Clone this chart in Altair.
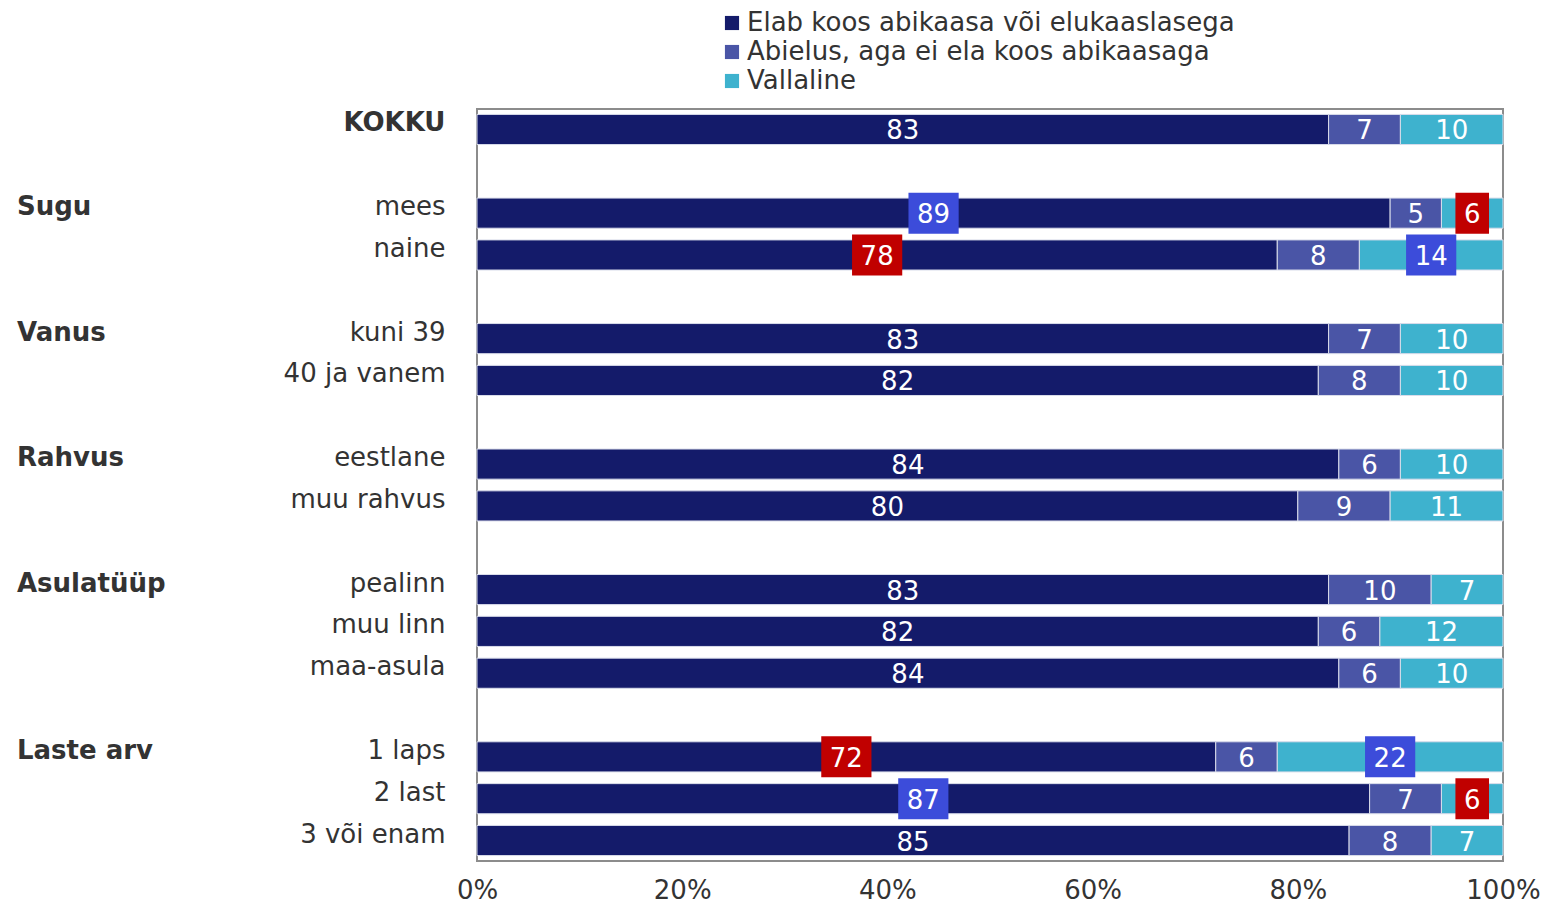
import altair as alt
import pandas as pd

FONT = "DejaVu Sans"

rows = ["KOKKU", " ", "mees", "naine", "  ", "kuni 39", "40 ja vanem", "   ",
        "eestlane", "muu rahvus", "    ", "pealinn", "muu linn", "maa-asula", "     ",
        "1 laps", "2 last", "3 või enam"]

categories = ["KOKKU", "mees", "naine", "kuni 39", "40 ja vanem", "eestlane", "muu rahvus",
              "pealinn", "muu linn", "maa-asula", "1 laps", "2 last", "3 või enam"]
series = ["Elab koos abikaasa või elukaaslasega", "Abielus, aga ei ela koos abikaasaga", "Vallaline"]
elab = [83, 89, 78, 83, 82, 84, 80, 83, 82, 84, 72, 87, 85]
abielus = [7, 5, 8, 7, 8, 6, 9, 10, 6, 6, 6, 7, 8]
vallaline = [10, 6, 14, 10, 10, 10, 11, 7, 12, 10, 22, 6, 7]
colors = ["#141B6A", "#4A55A6", "#3EB2CE"]

# significance highlights: (category, series index, direction)
highlights = [("mees", 0, "up"), ("mees", 2, "down"),
              ("naine", 0, "down"), ("naine", 2, "up"),
              ("1 laps", 0, "down"), ("1 laps", 2, "up"),
              ("2 last", 0, "up"), ("2 last", 2, "down")]

group_rows = ["mees", "kuni 39", "eestlane", "pealinn", "1 laps"]
group_labels = ["Sugu", "Vanus", "Rahvus", "Asulatüüp", "Laste arv"]

hl_map = {(c, s): d for c, s, d in highlights}
recs = []
for i, cat in enumerate(categories):
    for s, vals in enumerate([elab, abielus, vallaline]):
        recs.append({"row": cat, "series": series[s], "value": vals[i], "ord": s,
                     "hl": hl_map.get((cat, s), "")})
df = pd.DataFrame(recs)
gdf = pd.DataFrame({"row": group_rows, "label": group_labels})

W = 1026
yscale = alt.Scale(domain=rows, paddingInner=0.28, paddingOuter=0.13)
xscale = alt.Scale(domain=[0, 100], nice=False, zero=True)

y_enc = alt.Y("row:N", scale=yscale, sort=rows, title=None,
              axis=alt.Axis(ticks=False, domain=False, labelPadding=32, labelOffset=-6,
                            labelFontWeight=alt.ExprRef(expr="datum.value == 'KOKKU' ? 'bold' : 'normal'")))

bars = alt.Chart(df).mark_bar(stroke="#d9dcea", strokeWidth=1).encode(
    y=y_enc,
    x=alt.X("value:Q", stack="zero", scale=xscale, title=None,
            axis=alt.Axis(values=[0, 20, 40, 60, 80, 100], labelExpr="datum.value + '%'",
                          grid=False, ticks=False, domain=False, labelPadding=16,
                          labelFlush=False, labelOverlap=False)),
    color=alt.Color("series:N", scale=alt.Scale(domain=series, range=colors),
                    legend=alt.Legend(title=None, orient="none", legendX=242, legendY=-99,
                                      symbolType="square", symbolSize=200, symbolStrokeWidth=0,
                                      symbolOpacity=1, labelFontSize=26, labelFont=FONT,
                                      labelColor="#333333", rowPadding=3, padding=0,
                                      labelOffset=2, direction="vertical", labelLimit=800)),
    order=alt.Order("ord:Q"),
)

base = alt.Chart(df).transform_stack(
    stack="value", groupby=["row"], as_=["x0", "x1"],
    sort=[alt.SortField("ord", order="ascending")]
).transform_calculate(mid="(datum.x0 + datum.x1) / 2")

boxes = base.transform_filter("datum.hl != ''").transform_calculate(
    hw=f"(length(toString(datum.value)) * 8.3 + 8.5) / {W / 100}"
).transform_calculate(b0="datum.mid - datum.hw", b1="datum.mid + datum.hw").mark_bar(height=41).encode(
    y=alt.Y("row:N", scale=yscale, sort=rows, title=None),
    x=alt.X("b0:Q", scale=xscale, title=None),
    x2="b1:Q",
    color=alt.condition("datum.hl == 'up'", alt.value("#3C4CDA"), alt.value("#C00000")),
)

texts = base.mark_text(color="white", fontSize=26, font=FONT, baseline="middle", dy=2).encode(
    y=alt.Y("row:N", scale=yscale, sort=rows, title=None),
    x=alt.X("mid:Q", scale=xscale, title=None),
    text="value:Q",
)

groups = alt.Chart(gdf).mark_text(align="left", baseline="middle", fontSize=26, font=FONT,
                                  fontWeight="bold", color="#333333", dy=-6).encode(
    y=alt.Y("row:N", scale=yscale, sort=rows, title=None),
    x=alt.value(-460),
    text="label:N",
)

chart = alt.layer(bars, boxes, texts, groups).properties(
    width=W, height=752,
    autosize=alt.AutoSizeParams(type="none"),
    padding={"left": 469, "top": 101, "right": 37, "bottom": 42},
).configure_axis(
    labelFont=FONT, labelFontSize=26, labelColor="#333333"
).configure_view(
    stroke="#8c8c8c", strokeWidth=2
)

chart.save("out.html", embed_options={"renderer": "svg", "actions": False})
